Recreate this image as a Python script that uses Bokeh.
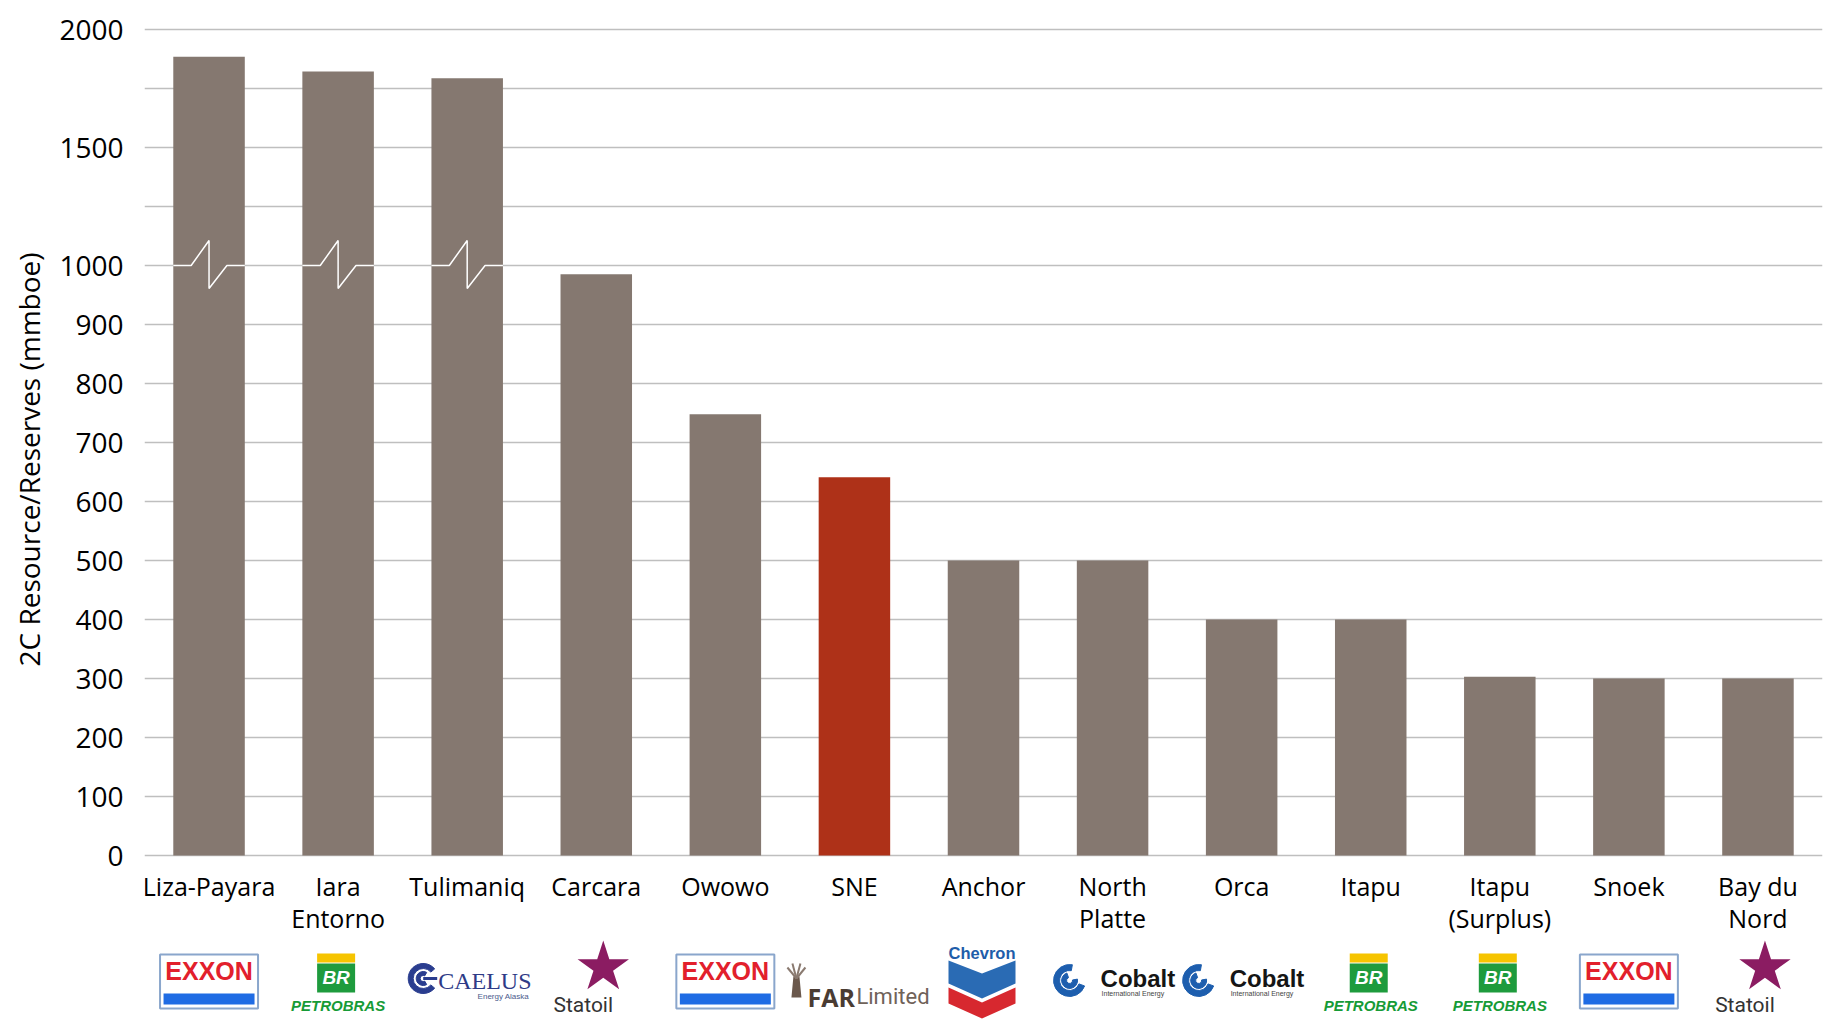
import math
from bokeh.plotting import figure
from bokeh.models import FixedTicker, Range1d, FactorRange, Title, ColumnDataSource
from bokeh.core.properties import value
from bokeh.embed import file_html
from bokeh.resources import INLINE

# ---------------- data ----------------
labels = ["Liza-Payara", "Iara\nEntorno", "Tulimaniq", "Carcara", "Owowo", "SNE",
          "Anchor", "North\nPlatte", "Orca", "Itapu", "Itapu\n(Surplus)", "Snoek", "Bay du\nNord"]
resources_mmboe = [1885, 1822, 1793, 985, 748, 641, 500, 500, 400, 400, 303, 300, 300]
operators = ["Exxon", "Petrobras", "Caelus", "Statoil", "Exxon", "FAR", "Chevron",
             "Cobalt", "Cobalt", "Petrobras", "Petrobras", "Exxon", "Statoil"]
highlight = "SNE"
tick_values = [0, 100, 200, 300, 400, 500, 600, 700, 800, 900, 1000, 1250, 1500, 1750, 2000]
tick_labels = ["0", "100", "200", "300", "400", "500", "600", "700", "800", "900", "1000",
               "", "1500", "", "2000"]
axis_break = 1000
y_title = "2C Resource/Reserves (mmboe)"

# ---------------- broken-axis scale (1 display unit = 1 px) ----------------
PX_LOW = 59 / 100    # px per mmboe below the break
PX_HIGH = 59 / 250   # px per mmboe above the break


def to_disp(v):
    if v <= axis_break:
        return round(v * PX_LOW, 4)
    return round(axis_break * PX_LOW + (v - axis_break) * PX_HIGH, 4)


# page layout helpers (page pixels)
BASE = 855        # page y of the zero line
TOP, BOTTOM = 20, 1019
LEFT, RIGHT = 144, 1822
N = len(labels)
CW = (RIGHT - LEFT) / N   # px per category


def Y(page_y):
    return BASE - page_y


def X(i, dx):
    return i + 0.5 + dx / CW


factors = [l.replace("\n", " ") for l in labels]

p = figure(x_range=FactorRange(factors=factors, range_padding=0, factor_padding=0),
           y_range=Range1d(BASE - BOTTOM, BASE - TOP),
           width=RIGHT + 1, height=BOTTOM, output_backend="svg", toolbar_location=None,
           min_border_left=LEFT, min_border_right=1, min_border_top=TOP,
           min_border_bottom=0)
p.outline_line_color = None
p.background_fill_color = "white"
p.border_fill_color = "white"
p.xaxis.visible = False
p.xgrid.visible = False

ticker = FixedTicker(ticks=[to_disp(t) for t in tick_values])
p.yaxis.ticker = ticker
p.yaxis.major_label_overrides = {to_disp(t): lab for t, lab in zip(tick_values, tick_labels)}
p.yaxis.axis_line_color = None
p.yaxis.major_tick_line_color = None
p.yaxis.minor_tick_line_color = None
p.yaxis.major_label_standoff = 15
p.yaxis.major_label_text_font = "Open Sans"
p.yaxis.major_label_text_font_size = "28px"
p.yaxis.major_label_text_color = "#000000"
p.ygrid.ticker = ticker
p.ygrid.grid_line_color = "#BFBFBF"
p.ygrid.grid_line_width = 1.5

t = Title(text=y_title, align="left", vertical_align="top", offset=BOTTOM - 666,
          text_font="Open Sans", text_font_size="28px", text_font_style="normal",
          text_color="#000000", standoff=13)
p.add_layout(t, "left")

# ---------------- bars ----------------
colors = ["#AE3118" if f == highlight else "#857870" for f in factors]
src = ColumnDataSource(dict(x=factors, top=[to_disp(v) for v in resources_mmboe], color=colors))
BAR_W = 0.554
p.vbar(x="x", top="top", bottom=0, width=BAR_W, fill_color="color", line_color=None, source=src)

# axis-break marks on bars that exceed the break
zx, zy = [], []
fr = [0, 0.25, 0.5, 0.5, 0.75, 1.0]
dy = [0, 0, 25, -23, 0, 0]
for i, v in enumerate(resources_mmboe):
    if v > axis_break:
        zx.append([i + 0.5 - BAR_W / 2 + f * BAR_W for f in fr])
        zy.append([to_disp(axis_break) + d for d in dy])
p.multi_line(xs=zx, ys=zy, line_color="white", line_width=1.5)

# ---------------- category labels ----------------
line1 = [l.split("\n")[0] for l in labels]
p.text(x=factors, y=[Y(885)] * N, text=line1, text_font=value("Open Sans"), text_font_size="25px",
       text_color="#000000", text_align="center", text_baseline="middle")
l2x = [f for f, l in zip(factors, labels) if "\n" in l]
l2t = [l.split("\n")[1] for l in labels if "\n" in l]
p.text(x=l2x, y=[Y(917)] * len(l2x), text=l2t, text_font=value("Open Sans"), text_font_size="25px",
       text_color="#000000", text_align="center", text_baseline="middle")


# ---------------- operator logos (drawn approximations) ----------------
def txt(x, y, s, font, size, color, style="normal", align="center", baseline="middle"):
    p.text(x=[x], y=[y], text=[s], text_font=value(font), text_font_size=size,
           text_font_style=style, text_color=color, text_align=align, text_baseline=baseline)


def box(x, y, w, h, fill, line=None, lw=1):
    p.rect(x=[x], y=[y], width=w / CW, height=h, fill_color=fill, line_color=line, line_width=lw)


def ring(x, y, r0, r1, a0, a1, color):
    p.annular_wedge(x=[x], y=[y], inner_radius=r0, outer_radius=r1, start_angle=math.radians(a0),
                    end_angle=math.radians(a1), inner_radius_units="screen",
                    outer_radius_units="screen", color=color)


def exxon(i):
    box(X(i, 0), Y(981), 98, 54, "white", "#8AA6CC", 2)
    txt(X(i, 0), Y(970), "EXXON", "Liberation Sans", "25px", "#E2202C", "bold")
    box(X(i, 0), Y(998.5), 91, 11, "#1F6CE4")


def petrobras(i):
    box(X(i, -2), Y(957.5), 38, 9, "#F6C400")
    box(X(i, -2), Y(977.5), 38, 29, "#1E9B3D")
    txt(X(i, -2), Y(977), "BR", "Liberation Sans", "19px", "#FFFFFF", "bold italic")
    txt(X(i, 0), Y(1005), "PETROBRAS", "Liberation Sans", "15px", "#169B36", "bold italic")


def caelus(i):
    cx, cy = X(i, -44), Y(978)
    ring(cx, cy, 10, 15, 40, 320, "#2A3D8F")
    ring(cx, cy, 3, 7, 60, 300, "#2A3D8F")
    box(X(i, -37), cy, 14, 3, "#2A3D8F")
    txt(X(i, -29), Y(980), "CAELUS", "Liberation Serif", "24px", "#2E3B87", align="left")
    txt(X(i, 62), Y(996), "Energy Alaska", "Liberation Sans", "8px", "#4B5B8C", align="right")


def statoil(i):
    p.scatter(x=[X(i, 7)], y=[Y(967)], marker="star", size=54, fill_color="#8B1C62", line_color=None)
    txt(X(i, -13), Y(1004), "Statoil", "Roboto", "21px", "#333333")


def far(i):
    p.patches(xs=[[X(i, d) for d in (-61, -55, -53, -63)]],
              ys=[[Y(976), Y(976), Y(997), Y(997)]], fill_color="#6A584C", line_color=None)
    tx = [X(i, -58)] * 4
    p.segment(x0=tx, y0=[Y(978)] * 4, x1=[X(i, -67), X(i, -62), X(i, -54), X(i, -49)],
              y1=[Y(967), Y(963), Y(963), Y(967)], line_color="#8A7A70", line_width=2)
    txt(X(i, -47), Y(996), "FAR", "Open Sans", "25px", "#4A3C33", "bold", "left", "alphabetic")
    txt(X(i, 2), Y(996), "Limited", "Roboto", "22px", "#6F6259", "normal", "left", "alphabetic")


def chevron(i):
    txt(X(i, -1.5), Y(952), "Chevron", "Liberation Sans", "16.5px", "#1E5DA9", "bold")
    hw = 33.5
    blue = [(-hw, 960), (0, 973), (hw, 960), (hw, 983), (0, 998), (-hw, 983)]
    red = [(-hw, 987), (0, 1002), (hw, 987), (hw, 1003), (0, 1018), (-hw, 1003)]
    p.patches(xs=[[X(i, -1.5 + a) for a, b in blue], [X(i, -1.5 + a) for a, b in red]],
              ys=[[Y(b) for a, b in blue], [Y(b) for a, b in red]],
              fill_color=["#2A6BB4", "#D7282F"], line_color=None)


def cobalt(i):
    cx, cy = X(i, -43), Y(980)
    ring(cx, cy, 10, 16, 80, 340, "#1D5EAE")
    ring(cx, cy, 3, 8, 110, 370, "#1D5EAE")
    txt(X(i, -12), Y(978), "Cobalt", "Liberation Sans", "24px", "#151515", "bold", "left")
    txt(X(i, -11), Y(993), "International Energy", "Liberation Sans", "7px", "#444444", align="left")


drawers = {"Exxon": exxon, "Petrobras": petrobras, "Caelus": caelus, "Statoil": statoil,
           "FAR": far, "Chevron": chevron, "Cobalt": cobalt}
for i, op in enumerate(operators):
    drawers[op](i)

open("out.html", "w").write(file_html(p, INLINE))
